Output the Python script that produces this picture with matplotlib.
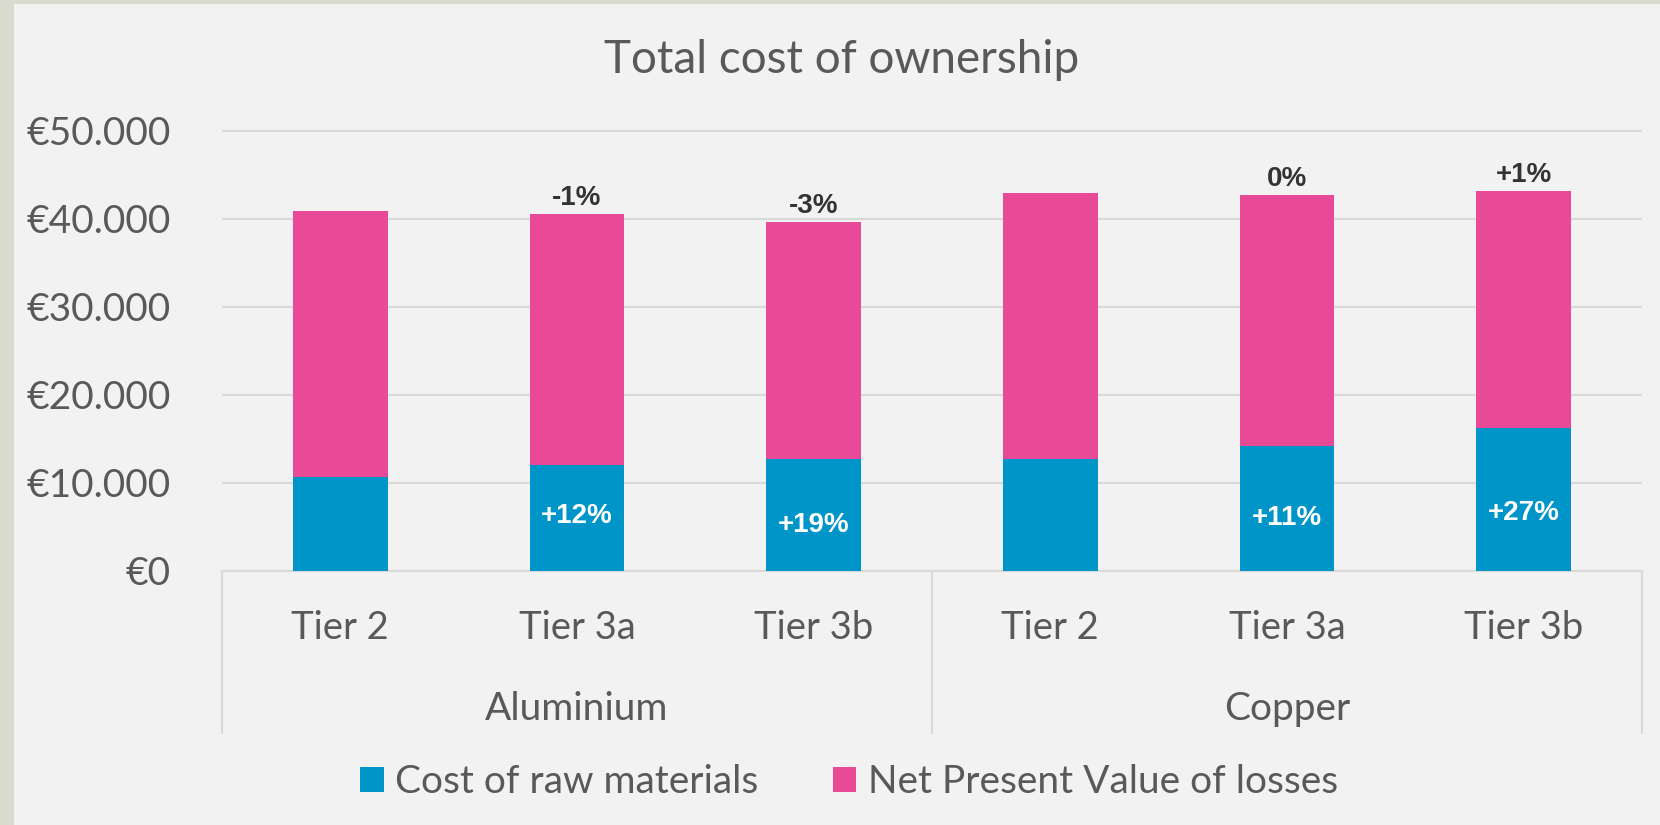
import matplotlib
matplotlib.use('Agg')
import matplotlib.pyplot as plt
import matplotlib.transforms as mtrans
from matplotlib.patches import Rectangle
from matplotlib.ticker import FuncFormatter

# data
tiers = ['Tier 2', 'Tier 3a', 'Tier 3b', 'Tier 2', 'Tier 3a', 'Tier 3b']
groups = ['Aluminium', 'Copper']
raw_materials = [10680, 12050, 12690, 12730, 14200, 16250]
npv_losses = [30160, 28480, 26970, 30190, 28490, 26900]
total_change = ['', '-1%', '-3%', '', '0%', '+1%']
raw_change = ['', '+12%', '+19%', '', '+11%', '+27%']
raw_label_y = [0, 5400, 4400, 0, 5200, 5800]

BLUE = '#0095C8'
PINK = '#E84A98'
GREY = '#595959'
GRID = '#D9D9D9'
MAIN_FONT = ['Lato', 'DejaVu Sans']
BOLD_FONT = ['Liberation Sans', 'DejaVu Sans']

W, H = 1660, 825
fig = plt.figure(figsize=(W / 100, H / 100), dpi=100)
fig.patch.set_facecolor('#DADBCF')
fig.patches.append(Rectangle((14 / W, 0), 1 - 14 / W, 1 - 4 / H, transform=fig.transFigure,
                             facecolor='#F2F2F2', edgecolor='none', zorder=-10))

ax_left, ax_right = 222 / W, 1642 / W
ax_bottom, ax_top = 1 - 570.7 / H, 1 - 126.3 / H
ax = fig.add_axes([ax_left, ax_bottom, ax_right - ax_left, ax_top - ax_bottom])
ax.set_facecolor('none')

x = list(range(len(tiers)))
ax.bar(x, raw_materials, width=0.40, color=BLUE, label='Cost of raw materials', zorder=3)
ax.bar(x, npv_losses, width=0.40, bottom=raw_materials, color=PINK,
       label='Net Present Value of losses', zorder=3)

ax.set_xlim(-0.5, 5.5)
ax.set_ylim(0, 50500)
ax.set_yticks([0, 10000, 20000, 30000, 40000, 50000])
ax.yaxis.set_major_formatter(FuncFormatter(lambda v, p: '€{:,.0f}'.format(v).replace(',', '.')))
ax.tick_params(axis='y', length=0, pad=37, labelsize=28, labelcolor=GREY)
for lab in ax.get_yticklabels():
    lab.set_family(MAIN_FONT)
ax.set_xticks([])
ax.grid(axis='y', color=GRID, linewidth=1.5, zorder=0)
for s in ['left', 'right', 'top']:
    ax.spines[s].set_visible(False)
ax.spines['bottom'].set_color(GRID)
ax.spines['bottom'].set_linewidth(1.5)

# two-level category axis
trans = mtrans.blended_transform_factory(ax.transData, ax.transAxes)
for xi, t in zip(x, tiers):
    ax.text(xi, -0.1544, t, transform=trans, ha='center', va='baseline',
            fontsize=27.5, color=GREY, family=MAIN_FONT)
for gi, g in enumerate(groups):
    ax.text(gi * 3 + 1, -0.336, g, transform=trans, ha='center', va='baseline',
            fontsize=28, color=GREY, family=MAIN_FONT)
for sx in [-0.5, 2.5, 5.5]:
    ax.plot([sx, sx], [0, -0.3645], transform=trans, color=GRID, linewidth=1.5, clip_on=False)

# change labels
for xi, r, n, lab in zip(x, raw_materials, npv_losses, total_change):
    if lab:
        ax.annotate(lab, (xi, r + n), xytext=(0, 6.5), textcoords='offset points',
                    ha='center', va='baseline', fontsize=20, fontweight='bold',
                    color='#333333', family=BOLD_FONT, zorder=4)
for xi, ly, lab in zip(x, raw_label_y, raw_change):
    if lab:
        ax.text(xi, ly, lab, ha='center', va='baseline', fontsize=20, fontweight='bold',
                color='white', family=BOLD_FONT, zorder=4)

fig.text(842 / W, 1 - 73.3 / H, 'Total cost of ownership', ha='center', va='baseline',
         fontsize=33, color=GREY, family=MAIN_FONT)

handles, labels = ax.get_legend_handles_labels()
leg = fig.legend(handles, labels, loc='center', bbox_to_anchor=(849 / W, 1 - 782 / H),
                 ncol=2, frameon=False, handlelength=0.6, handleheight=0.6,
                 handletextpad=0.3, columnspacing=1.9, prop={'family': MAIN_FONT, 'size': 28})
for t in leg.get_texts():
    t.set_color(GREY)

fig.savefig('out.png', dpi=100, facecolor=fig.get_facecolor())
